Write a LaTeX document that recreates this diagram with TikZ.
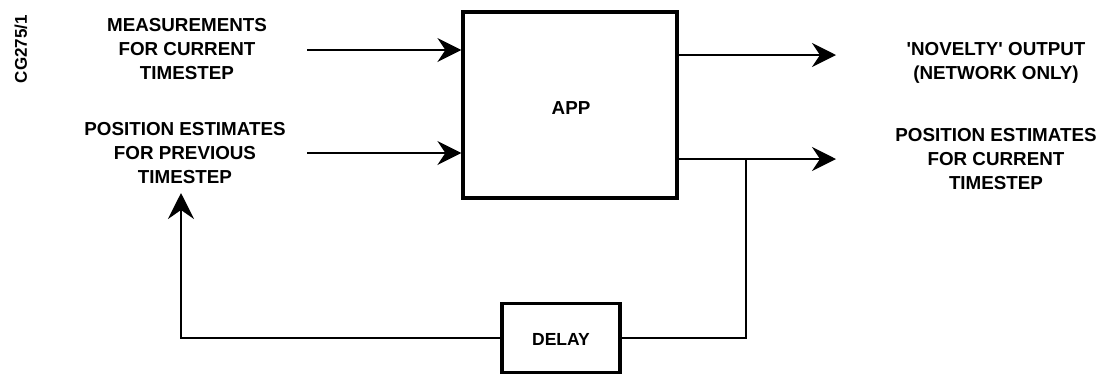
\documentclass[tikz,border=0pt]{standalone}
\usepackage{fontspec}
\setmainfont{Liberation Sans}
\usetikzlibrary{arrows.meta}
\begin{document}
\begin{tikzpicture}[x=1pt,y=-1pt,
  lbl/.style={font=\fontsize{18.8}{24}\selectfont\bfseries, align=center, inner sep=0pt},
  blockbox/.style={draw, line width=3.2pt, inner sep=0pt},
  conn/.style={line width=2pt},
  arr/.style={conn, -{Stealth[length=24pt,width=24pt,inset=8pt]}},
  farr/.style={conn, -{Stealth[length=26pt,width=26pt,inset=9pt]}}]
\useasboundingbox (0,0) rectangle (1104,376);
% blocks
\node[blockbox, minimum width=214pt, minimum height=186pt] (app) at (570,105) {};
\node[lbl] (applbl) at (571,108) {APP};
\node[blockbox, minimum width=118pt, minimum height=69pt] (delay) at (561,338) {};
\node[lbl, font=\fontsize{17.5}{20}\selectfont\bfseries] (delaylbl) at (561,339) {DELAY};
% labels
\node[lbl] (meas) at (187,49) {MEASUREMENTS\\FOR CURRENT\\TIMESTEP};
\node[lbl] (prev) at (185,153) {POSITION ESTIMATES\\FOR PREVIOUS\\TIMESTEP};
\node[lbl] (nov) at (996,63) {\textquotesingle NOVELTY\textquotesingle{} OUTPUT\\(NETWORK ONLY)};
\node[lbl] (curr) at (996,159) {POSITION ESTIMATES\\FOR CURRENT\\TIMESTEP};
\node[lbl, font=\fontsize{17}{19}\selectfont\bfseries, rotate=90] (cg) at (21,49) {CG275/1};
% coordinates
\coordinate (in1) at (307,50);
\coordinate (in2) at (307,153);
\coordinate (o1) at (836,55);
\coordinate (o2) at (836,159);
\coordinate (br) at (746,159);
\coordinate (fb) at (181,193);
% connectors
\draw[arr] (in1) -- (in1 -| app.west);
\draw[arr] (in2) -- (in2 -| app.west);
\draw[arr] (app.east |- o1) -- (o1);
\draw[arr] (app.east |- o2) -- (o2);
\draw[conn] (br) |- (delay.east);
\draw[farr] (delay.west) -| (fb);
\end{tikzpicture}
\end{document}
